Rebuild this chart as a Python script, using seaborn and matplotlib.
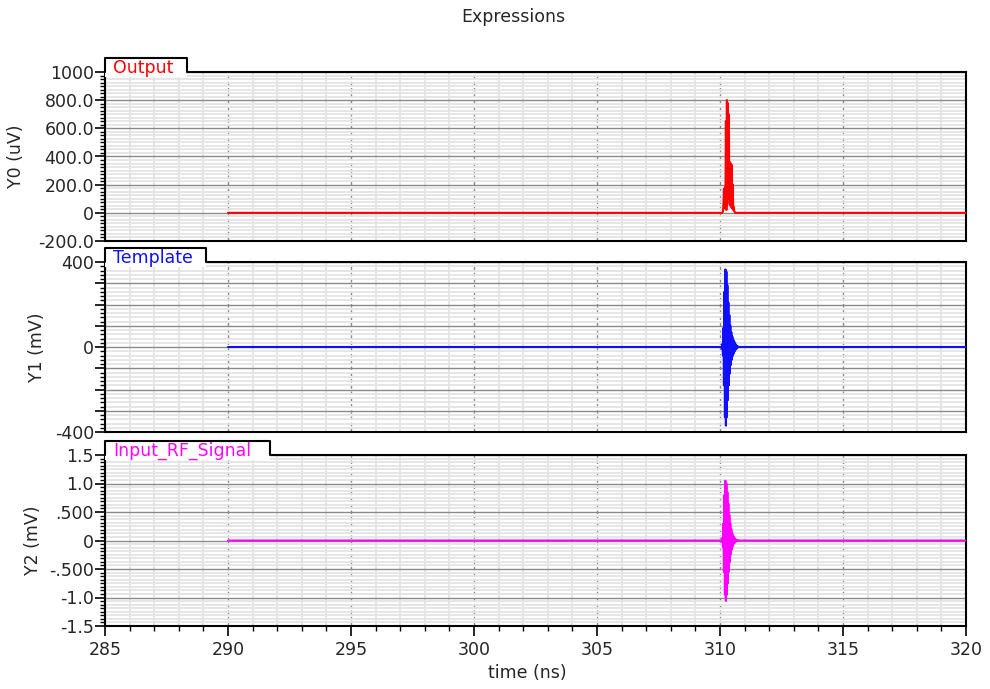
import matplotlib
matplotlib.use("Agg")
import matplotlib.pyplot as plt
from matplotlib.ticker import MultipleLocator, FixedLocator, FixedFormatter
from matplotlib.patches import Rectangle
from matplotlib.lines import Line2D
import pandas as pd
import seaborn as sns

# ---------------- data ----------------
t_range = [285.0, 320.0]
baseline_start = 290.0
baseline_end = 320.0
pulse_t = [310.06, 310.08, 310.10, 310.12, 310.14, 310.16, 310.18, 310.20, 310.22,
           310.24, 310.26, 310.28, 310.30, 310.32, 310.34, 310.36, 310.38, 310.40,
           310.42, 310.44, 310.46, 310.48, 310.50, 310.52, 310.54, 310.56, 310.58,
           310.60, 310.62, 310.64, 310.66, 310.68, 310.70, 310.72, 310.74, 310.76]

output_uV = [0, 0, 2, 10, 60, 170, 40, 180, 30, 650, 20, 800, 60, 780, 150, 700,
             100, 360, 50, 350, 40, 340, 30, 200, 20, 40, 10, 5, 0, 0, 0, 0, 0, 0, 0, 0]

template_mV = [0, -8, 15, -40, 90, -180, 260, -330, 365, -370, 355, -330, 290, -250,
               210, -180, 150, -125, 100, -85, 70, -60, 50, -42, 35, -30, 25, -20,
               16, -12, 9, -7, 5, -3, 2, 0]

input_mV = [0, -0.02, 0.05, -0.12, 0.30, -0.55, 0.80, -0.95, 1.05, -1.06, 1.00, -0.95,
            0.85, -0.75, 0.65, -0.55, 0.45, -0.38, 0.30, -0.25, 0.20, -0.16, 0.13, -0.10,
            0.08, -0.06, 0.05, -0.04, 0.03, -0.02, 0.015, -0.01, 0.008, -0.005, 0.003, 0]

names = ["Output", "Template", "Input_RF_Signal"]
ylabels = ["Y0 (uV)", "Y1 (mV)", "Y2 (mV)"]
colors = ["#ff0000", "#1010ff", "#ff00ff"]

y0_ticks = [-200, 0, 200, 400, 600, 800, 1000]
y0_ticklabels = ["-200.0", "0", "200.0", "400.0", "600.0", "800.0", "1000"]
y1_ticks = [-400, -300, -200, -100, 0, 100, 200, 300, 400]
y1_ticklabels = ["-400", "", "", "", "0", "", "", "", "400"]
y2_ticks = [-1.5, -1.0, -0.5, 0, 0.5, 1.0, 1.5]
y2_ticklabels = ["-1.5", "-1.0", "-.500", "0", ".500", "1.0", "1.5"]
x_ticks_major = 5
x_ticks_minor = 1

# ---------------- style ----------------
sns.set_style("white")
plt.rcParams["font.family"] = ["DejaVu Sans"]
plt.rcParams["axes.unicode_minus"] = False

W, H = 990, 689
fig = plt.figure(figsize=(W / 100, H / 100), dpi=100)
fig.patch.set_facecolor("white")

def fx(x):
    return x / W

def fy(y):
    return 1 - y / H

# axes pixel boxes (left, top, right, bottom)
boxes = [(105, 72, 966, 241), (105, 262, 966, 432), (105, 455, 966, 626)]
tabs_right = [187, 206, 270]
ylab_right = [25, 46, 42]
ylims = [(-200, 1000), (-400, 400), (-1.5, 1.5)]
ytick_sets = [(y0_ticks, y0_ticklabels), (y1_ticks, y1_ticklabels), (y2_ticks, y2_ticklabels)]
minor_steps = [25, 20, 0.0625]
series = [output_uV, template_mV, input_mV]

FS = 12.5
for i in range(3):
    l, t, r, b = boxes[i]
    ax = fig.add_axes([fx(l), fy(b), fx(r) - fx(l), fy(t) - fy(b)])
    ax.set_facecolor("white")
    ax.set_axisbelow(True)

    df = pd.DataFrame({
        "t": [baseline_start] + pulse_t + [baseline_end],
        "v": [0] + series[i] + [0],
    })
    sns.lineplot(data=df, x="t", y="v", ax=ax, color=colors[i], lw=1.5,
                 estimator=None, sort=False, zorder=4)

    ax.set_xlim(*t_range)
    ax.set_ylim(*ylims[i])
    ax.xaxis.set_major_locator(MultipleLocator(x_ticks_major))
    ax.xaxis.set_minor_locator(MultipleLocator(x_ticks_minor))
    ax.yaxis.set_major_locator(FixedLocator(ytick_sets[i][0]))
    ax.yaxis.set_major_formatter(FixedFormatter(ytick_sets[i][1]))
    ax.yaxis.set_minor_locator(MultipleLocator(minor_steps[i]))

    ax.grid(which="minor", color="#e4e4e4", lw=1.3, ls="-")
    ax.grid(which="major", axis="y", color="#8a8a8a", lw=1.0, ls="-")
    ax.grid(which="major", axis="x", color="#8a8a8a", lw=1.0, ls=(0, (2.5, 2)))

    for s in ax.spines.values():
        s.set_color("black")
        s.set_linewidth(1.5)

    ax.tick_params(axis="y", which="major", direction="out", length=7, width=1.2,
                   color="black", labelsize=FS, pad=1, left=True)
    ax.tick_params(axis="y", which="minor", direction="out", length=3.5, width=1.0,
                   color="black", left=True)
    if i < 2:
        ax.tick_params(axis="x", which="both", bottom=False, labelbottom=False)
    else:
        ax.tick_params(axis="x", which="major", direction="out", length=7, width=1.2,
                       color="black", labelsize=FS, pad=3.5, bottom=True)
        ax.tick_params(axis="x", which="minor", direction="out", length=3.5, width=1.0,
                       color="black", bottom=True)
    ax.set_xlabel("")
    ax.set_ylabel(ylabels[i], fontsize=FS)
    ax.yaxis.set_label_coords((ylab_right[i] - l) / (r - l), 0.5)

    # tab
    tr = tabs_right[i]
    ttop = t - 14
    fig.add_artist(Rectangle((fx(l), fy(t + 5)), fx(tr) - fx(l), fy(ttop) - fy(t + 5),
                             transform=fig.transFigure, facecolor="white",
                             edgecolor="none", zorder=5))
    fig.add_artist(Line2D([fx(l), fx(l), fx(tr), fx(tr)], [fy(t), fy(ttop), fy(ttop), fy(t)],
                          transform=fig.transFigure, color="black", lw=1.5, zorder=6))
    fig.text(fx(l + 8), fy(t - 4), names[i], color=colors[i], fontsize=FS,
             ha="left", va="center", zorder=7)

fig.text(fx(513), fy(17), "Expressions", fontsize=FS, ha="center", va="center")
fig.text(fx(527), fy(673), "time (ns)", fontsize=FS, ha="center", va="center")

fig.savefig("out.png", dpi=100)
